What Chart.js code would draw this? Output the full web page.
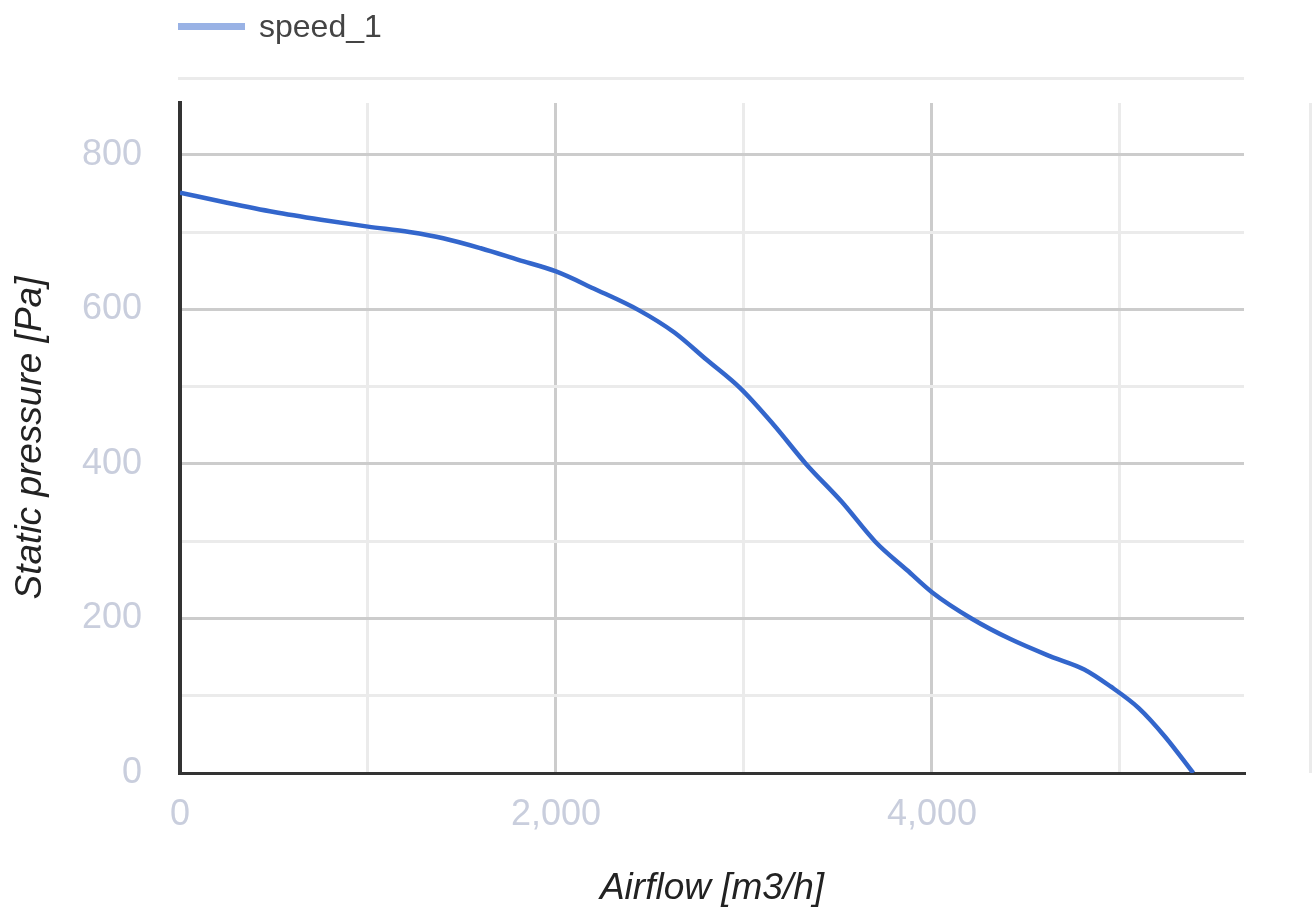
<!DOCTYPE html>
<html>
<head>
<meta charset="utf-8">
<script src="https://cdn.jsdelivr.net/npm/chart.js@4/dist/chart.umd.min.js"></script>
<style>
  html, body { margin: 0; padding: 0; background: #ffffff; }
  canvas { display: block; }
</style>
</head>
<body>
<canvas id="c" width="1315" height="918"></canvas>
<script>
// ---- data ----
const seriesName = "speed_1";
const airflow = [0, 250, 500, 750, 1000, 1220, 1400, 1600, 1800, 2000, 2200, 2440, 2630, 2800, 2980, 3160, 3330, 3520, 3700, 3870, 4000, 4210, 4420, 4630, 4810, 4950, 5100, 5240, 5390];
const pressure = [751, 738, 726, 716, 707, 700, 692, 679, 664, 649, 627, 599, 570, 535, 498, 450, 400, 351, 299, 262, 234, 200, 173, 151, 134, 112, 84, 47, 0];
const xTicks = [0, 1000, 2000, 3000, 4000, 5000];
const yTicks = [0, 100, 200, 300, 400, 500, 600, 700, 800];
const xTitle = "Airflow [m3/h]";
const yTitle = "Static pressure [Pa]";
const xMin = 0, xMax = 5660, xLabelStep = 2000;
const yMin = 0, yMax = 867, yLabelStep = 200;

const FONT = "'Liberation Sans', Arial, sans-serif";

const extrasPlugin = {
  id: 'extras',
  afterDraw(chart) {
    const ctx = chart.ctx;
    const area = chart.chartArea;
    ctx.save();
    // legend
    ctx.fillStyle = 'rgba(51,102,204,0.5)';
    ctx.fillRect(178, 23, 67, 7);
    ctx.fillStyle = '#444444';
    ctx.font = '32px ' + FONT;
    ctx.textAlign = 'left';
    ctx.textBaseline = 'middle';
    ctx.fillText(chart.data.datasets[0].label, 259, 28);
    // separator below legend
    ctx.fillStyle = '#ebebeb';
    ctx.fillRect(178, 77, area.right - 178, 3);
    // stray vertical line at right
    ctx.fillRect(1309, area.top, 3, area.bottom - area.top);
    ctx.restore();
  }
};

const points = airflow.map((x, i) => ({ x: x, y: pressure[i] }));

new Chart(document.getElementById('c'), {
  type: 'line',
  data: {
    datasets: [{
      label: seriesName,
      data: points,
      borderColor: '#3366cc',
      borderWidth: 4.5,
      pointRadius: 0,
      fill: false,
      cubicInterpolationMode: 'monotone'
    }]
  },
  options: {
    responsive: false,
    animation: false,
    layout: { padding: { top: 103, right: 71, left: 0, bottom: 0 } },
    plugins: {
      legend: { display: false },
      tooltip: { enabled: false }
    },
    scales: {
      x: {
        type: 'linear',
        min: xMin, max: xMax,
        afterFit(s) { s.height = 145; },
        afterBuildTicks(s) { s.ticks = xTicks.map(v => ({ value: v })); },
        ticks: {
          autoSkip: false,
          maxRotation: 0,
          padding: 20,
          color: '#c9cedd',
          font: { family: FONT, size: 36 },
          callback: v => (v % xLabelStep === 0 ? v.toLocaleString('en-US') : '')
        },
        grid: {
          drawTicks: false,
          lineWidth: 3,
          color: c => (c.tick && c.tick.value % xLabelStep === 0 ? '#cccccc' : '#ebebeb')
        },
        border: { display: true, color: '#333333', width: 3 },
        title: {
          display: true,
          text: xTitle,
          color: '#222222',
          padding: { top: 0, bottom: 7 },
          font: { family: FONT, size: 37, style: 'italic' }
        }
      },
      y: {
        type: 'linear',
        min: yMin, max: yMax,
        afterFit(s) { s.width = 180; },
        afterBuildTicks(s) { s.ticks = yTicks.map(v => ({ value: v })); },
        ticks: {
          autoSkip: false,
          padding: 38,
          color: '#c9cedd',
          font: { family: FONT, size: 36 },
          callback: v => (v % yLabelStep === 0 ? String(v) : '')
        },
        grid: {
          drawTicks: false,
          lineWidth: 3,
          color: c => (c.tick && c.tick.value % yLabelStep === 0 ? '#cccccc' : '#ebebeb')
        },
        border: { display: true, color: '#333333', width: 4 },
        title: {
          display: true,
          text: yTitle,
          color: '#222222',
          padding: { top: 9, bottom: 0 },
          font: { family: FONT, size: 37, style: 'italic' }
        }
      }
    }
  },
  plugins: [extrasPlugin]
});
</script>
</body>
</html>
